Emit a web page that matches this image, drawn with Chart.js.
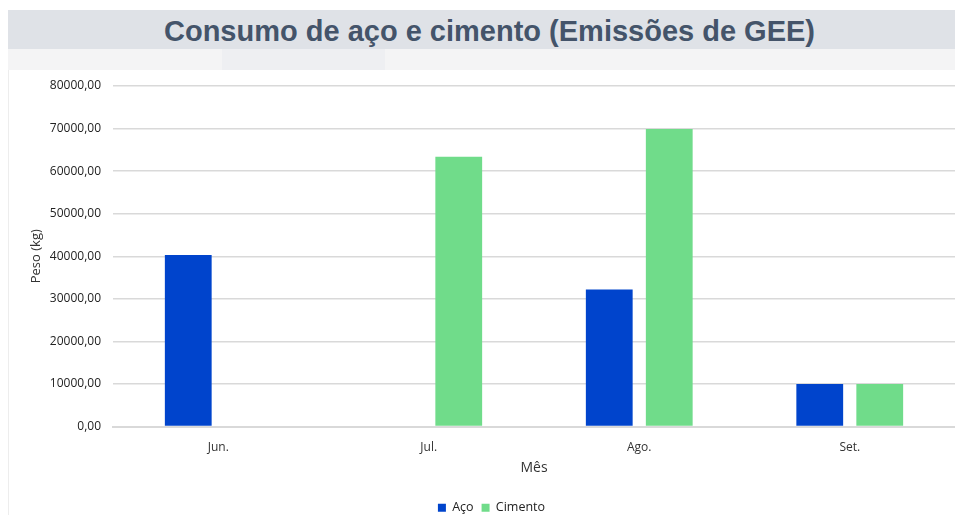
<!DOCTYPE html>
<html>
<head>
<meta charset="utf-8">
<script src="https://cdn.jsdelivr.net/npm/chart.js@4"></script>
<style>
  body { margin: 0; width: 955px; height: 515px; background: #fff; overflow: hidden; position: relative; }
  #banner { position: absolute; left: 8px; top: 10px; width: 947px; height: 39px; background: #dfe2e7;
    font-family: "Liberation Sans", Arial, sans-serif; font-weight: bold; font-size: 29px; color: #44546a;
    text-align: center; line-height: 42px; padding-left: 16px; box-sizing: border-box; }
  #strip { position: absolute; left: 8px; top: 49px; width: 947px; height: 21px; background: #f4f4f5; }
  #patch { position: absolute; left: 214px; top: 0; width: 163px; height: 21px; background: #eeeff2; }
  #wrap { position: absolute; left: 8px; top: 70px; width: 947px; height: 445px; border-left: 1px solid #ededed; box-sizing: border-box; }
</style>
</head>
<body>
<div id="banner">Consumo de aço e cimento (Emissões de GEE)</div>
<div id="strip"><div id="patch"></div></div>
<div id="wrap"><canvas id="chart" width="946" height="445"></canvas></div>
<script>
const months = ['Jun.', 'Jul.', 'Ago.', 'Set.'];
const aco = [40300, 0, 32200, 10000];
const cimento = [0, 63400, 69900, 10000];

const fmt = v => v.toFixed(2).replace('.', ',');
const tickFont = { family: 'Open Sans', size: 12 };

const ctx = document.getElementById('chart').getContext('2d');
const myChart = new Chart(ctx, {
  type: 'bar',
  data: {
    labels: months,
    datasets: [
      { label: 'Aço', data: aco, backgroundColor: '#0044cc' },
      { label: 'Cimento', data: cimento, backgroundColor: '#70dc8a' },
    ],
  },
  options: {
    responsive: false,
    animation: false,
    categoryPercentage: 0.57,
    barPercentage: 0.78,
    layout: { padding: { left: 19, right: 0, top: 16, bottom: -9 } },
    plugins: {
      tooltip: { enabled: false },
      legend: {
        position: 'bottom',
        labels: { boxWidth: 8, boxHeight: 8, padding: 8, color: '#222', font: { family: 'Open Sans', size: 12.5 } },
      },
    },
    scales: {
      x: {
        grid: { display: false },
        border: { color: '#d9d9d9', width: 2 },
        ticks: { color: '#333', font: tickFont, padding: 6 },
        title: { display: true, text: 'Mês', color: '#333', font: { family: 'Open Sans', size: 14 }, padding: { top: 0, bottom: 17 } },
        afterFit: s => { s.height = 67; },
      },
      y: {
        min: 0,
        max: 80000,
        ticks: { stepSize: 10000, color: '#222', font: tickFont, padding: 12, callback: v => fmt(v) },
        grid: { color: '#d9d9d9', lineWidth: 1.5, drawTicks: false },
        border: { display: false },
        title: { display: true, text: 'Peso (kg)', color: '#333', font: { family: 'Open Sans', size: 13 }, padding: { top: 0, bottom: 2 } },
        afterFit: s => { s.width = 85; s.paddingTop = 0; },
      },
    },
  },
});
</script>
</body>
</html>
